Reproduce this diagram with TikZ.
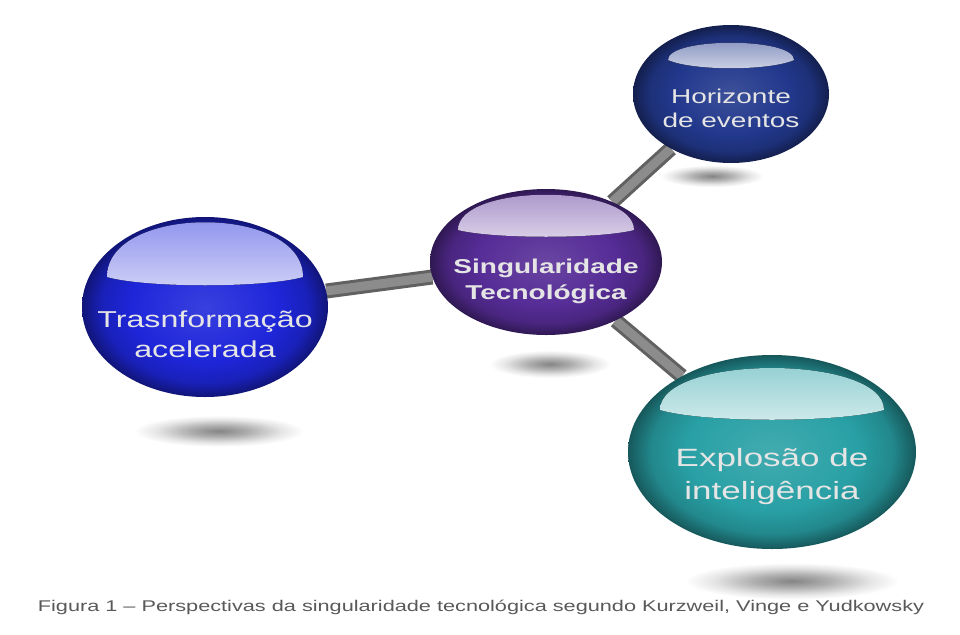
\documentclass[tikz,border=0pt]{standalone}
\usepackage{fontspec}
\setmainfont{Liberation Sans}[FakeStretch=1.4]
\usetikzlibrary{shapes.geometric}
\usetikzlibrary{backgrounds}
\usetikzlibrary{calc}

\definecolor{transblue}{RGB}{30,38,218}
\definecolor{singpurple}{RGB}{86,44,150}
\definecolor{horiznavy}{RGB}{34,56,140}
\definecolor{expltea}{RGB}{40,160,165}
\colorlet{ballcol}{transblue}
\pgfdeclareradialshading[ballcol]{ball}{\pgfpoint{0bp}{0bp}}{color(0bp)=(ballcol!88!white); color(15bp)=(ballcol); color(21bp)=(ballcol!85!black); color(25bp)=(ballcol!55!black); color(50bp)=(ballcol!55!black)}
\pgfdeclareradialshading{blob}{\pgfpoint{0bp}{0bp}}{color(0bp)=(black!48); color(8bp)=(black!32); color(17bp)=(black!10); color(23bp)=(white); color(50bp)=(white)}

\tikzset{
    sphere/.style={ellipse, inner sep=0pt, /utils/exec={\colorlet{ballcol}{#1}}, shading=ball},
    lbl/.style={text=white!90!black, align=center},
    bar/.style={line width=3pt, draw=black!62, double=black!45, double distance=9pt},
    shadowblob/.style={shading=blob}
}

\begin{document}
\begin{tikzpicture}[x=1pt,y=-1pt]
	\useasboundingbox (0,0) rectangle (960,634);

	% spheres
	\node[sphere=transblue, minimum width=246pt, minimum height=180pt] (trans) at (205,307) {};
	\node[sphere=singpurple, minimum width=232pt, minimum height=146pt] (sing) at (546,262) {};
	\node[sphere=horiznavy, minimum width=196pt, minimum height=138pt] (horiz) at (731,94) {};
	\node[sphere=expltea, minimum width=288pt, minimum height=194pt] (expl) at (772,452) {};

	% gloss
	\foreach \n/\c/\w/\s/\t/\b in {trans/transblue/98/-30/-103/-19,
		sing/singpurple/88/-32/-79/-23,
		horiz/horiznavy/63/-34/-57/-23,
		expl/expltea/112/-42/-98/-29}
	\fill[top color=\c!55!white, bottom color=\c!22!white]
		($(\n)+(-\w,\s)$) .. controls ($(\n)+(-\w,\t)$) and ($(\n)+(\w,\t)$) .. ($(\n)+(\w,\s)$)
		.. controls ($(\n)+(0.6*\w,\b)$) and ($(\n)+(-0.6*\w,\b)$) .. cycle;

	\begin{scope}[on background layer]
	% shadows
	\shade[shadowblob] (127,414) rectangle (311,448);
	\shade[shadowblob] (484,349) rectangle (616,379);
	\shade[shadowblob] (656,164) rectangle (768,188);
	\shade[shadowblob] (676,561) rectangle (908,601);
	% connectors
	\draw[bar] (sing) -- (trans);
	\draw[bar] (sing) -- (horiz);
	\draw[bar] (sing) -- (expl);
	\end{scope}

	\node[lbl, font=\fontsize{23}{30}\selectfont] (transtxt) at ([yshift=-27pt]trans.center) {Trasnformação\\acelerada};
	\node[lbl, font=\bfseries\fontsize{20}{26}\selectfont] (singtxt) at ([yshift=-19pt]sing.center) {Singularidade\\Tecnológica};
	\node[lbl, font=\fontsize{20}{24}\selectfont] (houriztxt) at ([yshift=-14pt]horiz.center) {Horizonte\\de eventos};
	\node[lbl, font=\fontsize{25}{33}\selectfont] (expltxt) at ([yshift=-25pt]expl.center) {Explosão de\\inteligência};

	\node[text=black!65, font=\fontsize{15.5}{18}\selectfont] (caption) at (481,607) {Figura 1 – Perspectivas da singularidade tecnológica segundo Kurzweil, Vinge e Yudkowsky};
\end{tikzpicture}
\end{document}
